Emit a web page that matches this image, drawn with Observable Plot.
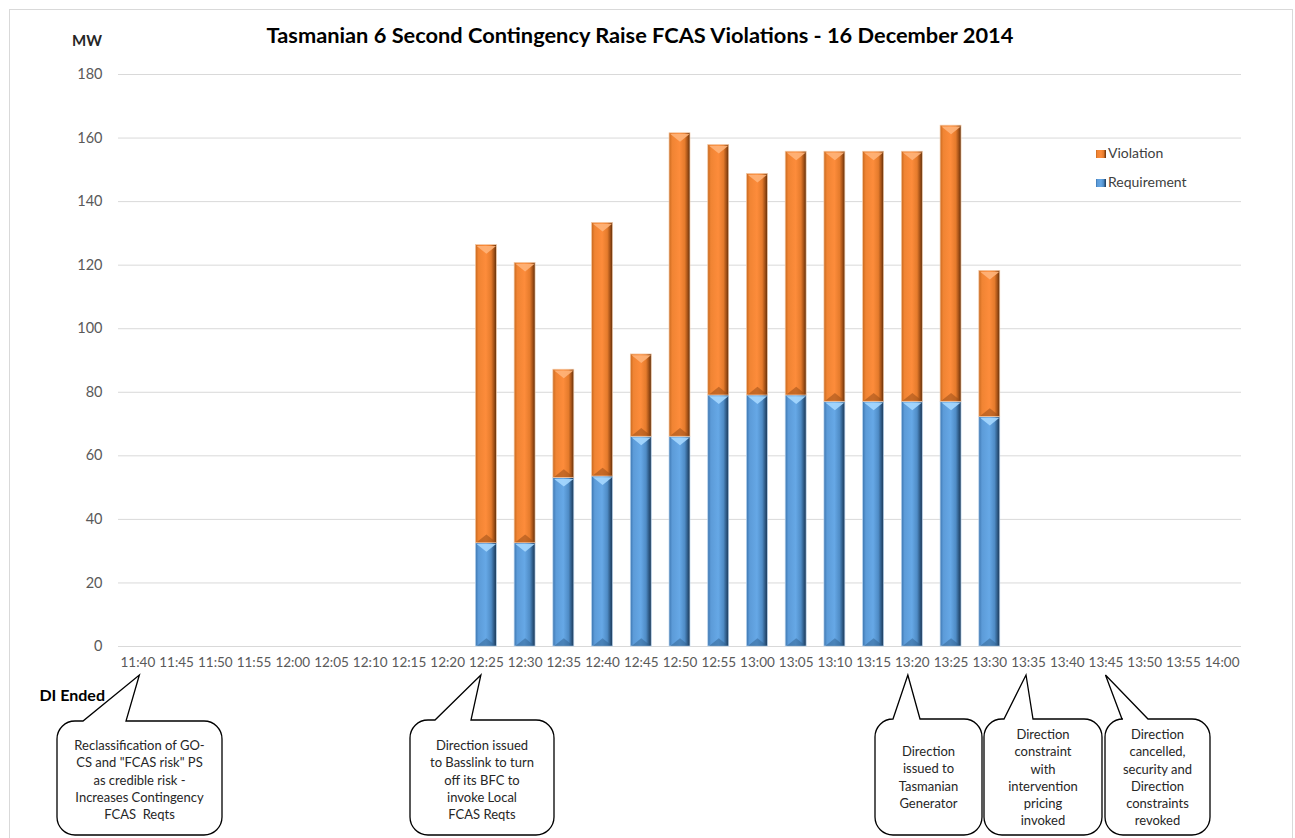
<!DOCTYPE html>
<html><head><meta charset="utf-8">
<script src="https://cdn.jsdelivr.net/npm/d3@7"></script>
<script src="https://cdn.jsdelivr.net/npm/@observablehq/plot@0.6"></script>
<style>body{margin:0;background:#fff;} #chart svg{display:block;}</style>
</head><body>
<svg width="0" height="0" style="position:absolute">
<defs>
<linearGradient id="gradO" x1="0" y1="0" x2="1" y2="0">
<stop offset="0" stop-color="#c8691f"/>
<stop offset="0.15" stop-color="#f08433"/>
<stop offset="0.5" stop-color="#fd8c3b"/>
<stop offset="0.75" stop-color="#e57b2c"/>
<stop offset="0.9" stop-color="#9c4d15"/>
<stop offset="1" stop-color="#5c2e0b"/>
</linearGradient>
<linearGradient id="gradB" x1="0" y1="0" x2="1" y2="0">
<stop offset="0" stop-color="#3d76b0"/>
<stop offset="0.15" stop-color="#5c9bd8"/>
<stop offset="0.5" stop-color="#66a8e6"/>
<stop offset="0.75" stop-color="#4f8cc6"/>
<stop offset="0.9" stop-color="#2c5680"/>
<stop offset="1" stop-color="#1d3855"/>
</linearGradient>
</defs></svg>
<div id="chart"></div>
<script>
// ---- data ----
const times = ["11:40","11:45","11:50","11:55","12:00","12:05","12:10","12:15","12:20",
  "12:25","12:30","12:35","12:40","12:45","12:50","12:55","13:00","13:05","13:10",
  "13:15","13:20","13:25","13:30","13:35","13:40","13:45","13:50","13:55","14:00"];
const requirement = [0,0,0,0,0,0,0,0,0,
  32.5,32.5,53,53.5,66,66,79,79,79,77,77,77,77,72.2,
  0,0,0,0,0,0];
const violation = [0,0,0,0,0,0,0,0,0,
  93.8,88.2,34.1,79.8,25.9,95.5,78.8,69.7,76.7,78.7,78.7,78.7,86.9,46.0,
  0,0,0,0,0,0];
const seriesNames = ["Violation","Requirement"];
const yTicks = [0,20,40,60,80,100,120,140,160,180];
const chartTitle = "Tasmanian 6 Second Contingency Raise FCAS Violations - 16 December 2014";
const yUnit = "MW";
const sideNote = "DI Ended";
const calloutTimes = ["11:40","12:25","13:20","13:35","13:45"];
const calloutTexts = [
  ["Reclassification of GO-","CS and \"FCAS risk\" PS","as credible risk -","Increases Contingency","FCAS  Reqts"],
  ["Direction issued","to Basslink to turn","off its BFC to","invoke Local","FCAS Reqts"],
  ["Direction","issued to","Tasmanian","Generator"],
  ["Direction","constraint","with","intervention","pricing","invoked"],
  ["Direction","cancelled,","security and","Direction","constraints","revoked"]
];

// ---- layout ----
const W = 1295, H = 838, mL = 118, mR = 54, mT = 74, mB = 192;
const step = (W - mL - mR) / times.length;
const bw = step * 0.54;
const inset = (step - bw) / 2;
// callout boxes: [x0, y0, x1, y1, tailLeft, tailRight, textY0, tipDx]
const calloutBoxes = [
  [57, 721, 222, 835, 83, 126, 747, 2],
  [410, 720, 554, 835, 435, 471, 747, -5],
  [875, 719, 982, 835, 893, 920, 753, -4],
  [984, 719, 1102, 835, 1004, 1033, 736, -2],
  [1105, 719, 1210, 835, 1122, 1148, 736, 0]
];

const rows = times.map((t, i) => ({time: t, req: requirement[i], vio: violation[i], total: requirement[i] + violation[i]}))
  .filter(d => d.total > 0);

const chevDown = {draw(ctx, size) {const r = Math.sqrt(size / Math.PI); ctx.moveTo(-r, 0); ctx.lineTo(r, 0); ctx.lineTo(0, 0.8 * r); ctx.closePath();}};
const chevUp = {draw(ctx, size) {const r = Math.sqrt(size / Math.PI); ctx.moveTo(-r, 0); ctx.lineTo(r, 0); ctx.lineTo(0, -0.8 * r); ctx.closePath();}};
const cr = bw / 2 - 0.8;

const plot = Plot.plot({
  width: W, height: H, marginTop: mT, marginBottom: mB, marginLeft: mL, marginRight: mR,
  style: {fontFamily: "Lato, 'Open Sans', sans-serif", fontSize: "13px", color: "#595959", background: "#fff"},
  x: {domain: times, padding: 0, round: false},
  y: {domain: [0, 180]},
  marks: [
    Plot.gridY(yTicks, {stroke: "#d9d9d9", strokeOpacity: 1, strokeWidth: 1}),
    Plot.axisY(yTicks, {tickSize: 0, tickPadding: 16, fontSize: 14.5, label: null}),
    Plot.axisX({tickSize: 0, tickPadding: 11, fontSize: 13.5, label: null}),
    Plot.barY(rows, {x: "time", y1: 0, y2: "req", insetLeft: inset, insetRight: inset, fill: "url(#gradB)", stroke: "#b7d3ee", strokeWidth: 0.7}),
    Plot.barY(rows, {x: "time", y1: "req", y2: "total", insetLeft: inset, insetRight: inset, fill: "url(#gradO)", stroke: "#f3c8a5", strokeWidth: 0.7}),
    Plot.dot(rows, {x: "time", y: 0, symbol: chevUp, r: cr, fill: "#2f5f8e", fillOpacity: 0.5, dy: -0.5}),
    Plot.dot(rows, {x: "time", y: "req", symbol: chevDown, r: cr, fill: "#a6d8ff", fillOpacity: 0.9, dy: 0.8}),
    Plot.dot(rows, {x: "time", y: "req", symbol: chevUp, r: cr, fill: "#9a4e17", fillOpacity: 0.55, dy: -1}),
    Plot.dot(rows, {x: "time", y: "total", symbol: chevDown, r: cr, fill: "#ffb47a", fillOpacity: 0.9, dy: 0.8})
  ]
});
document.getElementById("chart").appendChild(plot);

const svg = d3.select(plot);
const sx = plot.scale("x");
const font = "Lato, 'Open Sans', sans-serif";

// outer border
svg.append("rect").attr("x", 9.5).attr("y", 9.5).attr("width", 1283).attr("height", 840)
  .attr("fill", "none").attr("stroke", "#d9d9d9");

// title and unit
svg.append("text").attr("x", 640).attr("y", 37).attr("text-anchor", "middle").attr("dominant-baseline", "middle")
  .attr("font-family", font).attr("font-weight", "bold").attr("font-size", 21.8).attr("fill", "#000").text(chartTitle);
svg.append("text").attr("x", 102).attr("y", 42).attr("text-anchor", "end").attr("dominant-baseline", "middle")
  .attr("font-family", font).attr("font-weight", "bold").attr("font-size", 15).attr("fill", "#262626").text(yUnit);

// legend
const legendFill = {"Violation": "url(#gradO)", "Requirement": "url(#gradB)"};
seriesNames.forEach((s, i) => {
  const y = 154 + i * 29;
  svg.append("rect").attr("x", 1096).attr("y", y - 4).attr("width", 10).attr("height", 8).attr("fill", legendFill[s]);
  svg.append("text").attr("x", 1108).attr("y", y).attr("text-anchor", "start").attr("dominant-baseline", "middle")
    .attr("font-family", font).attr("font-size", 14).attr("fill", "#404040").text(s);
});

// DI Ended
svg.append("text").attr("x", 105).attr("y", 697).attr("text-anchor", "end").attr("dominant-baseline", "middle")
  .attr("font-family", font).attr("font-weight", "bold").attr("font-size", 16).attr("fill", "#000").text(sideNote);

// callouts
const tipY = 675, rr = 18;
calloutTimes.forEach((t, i) => {
  const [x0, y0, x1, y1, b1, b2, ty, tdx] = calloutBoxes[i];
  const tx = sx.apply(t) + sx.bandwidth / 2 + tdx;
  const p = d3.path();
  p.moveTo(x0 + rr, y0);
  p.lineTo(b1, y0);
  p.lineTo(tx, tipY);
  p.lineTo(b2, y0);
  p.lineTo(x1 - rr, y0);
  p.arcTo(x1, y0, x1, y0 + rr, rr);
  p.lineTo(x1, y1 - rr);
  p.arcTo(x1, y1, x1 - rr, y1, rr);
  p.lineTo(x0 + rr, y1);
  p.arcTo(x0, y1, x0, y1 - rr, rr);
  p.lineTo(x0, y0 + rr);
  p.arcTo(x0, y0, x0 + rr, y0, rr);
  p.closePath();
  svg.append("path").attr("d", p.toString()).attr("fill", "#fff").attr("stroke", "#000").attr("stroke-width", 1.3)
    .attr("stroke-linejoin", "miter");
  const cx = (x0 + x1) / 2;
  calloutTexts[i].forEach((line, j) => {
    svg.append("text").attr("x", cx).attr("y", ty + j * 17.2).attr("text-anchor", "middle").attr("dominant-baseline", "middle")
      .attr("font-family", font).attr("font-size", 13).attr("fill", "#262626").text(line);
  });
});
</script>
</body></html>
